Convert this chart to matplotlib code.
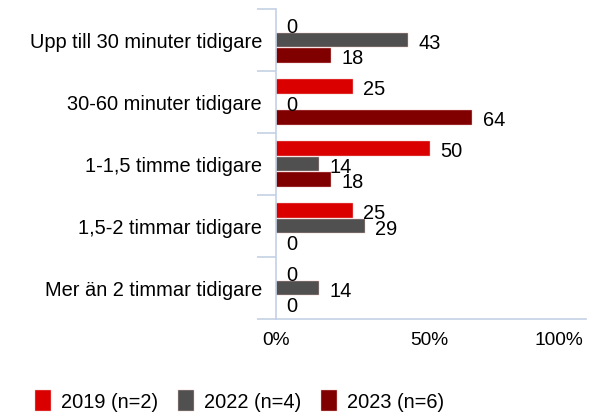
import matplotlib.pyplot as plt
import numpy as np

plt.rcParams['font.family'] = ['Liberation Sans', 'DejaVu Sans']

# --- Data
categories = ["Upp till 30 minuter tidigare", "30-60 minuter tidigare",
              "1-1,5 timme tidigare", "1,5-2 timmar tidigare",
              "Mer än 2 timmar tidigare"]
series_names = ["2019 (n=2)", "2022 (n=4)", "2023 (n=6)"]
v2019 = [0, 25, 50, 25, 0]
v2022 = [43, 0, 14, 29, 14]
v2023 = [18, 64, 18, 0, 0]
colors = ["#DA0000", "#505050", "#800000"]
x_ticks = [0, 50, 100]
x_labels = ["0%", "50%", "100%"]

axis_col = "#C3D1E4"

fig = plt.figure(figsize=(5.95, 4.14), dpi=100)
ax = fig.add_axes([276 / 595, 1 - 320 / 414, (583 - 276) / 595, (320 - 10) / 414])

y = np.arange(len(categories))
h = 0.25
for i, (vals, name, c) in enumerate(zip([v2019, v2022, v2023], series_names, colors)):
    pos = y + (i - 1) * h
    ax.barh(pos, vals, height=0.235, color=c, label=name,
            edgecolor="#f0c0c0", linewidth=0.3)
    for p, v in zip(pos, vals):
        ax.annotate(str(v), (v, p), xytext=(7.5, -1.5), textcoords="offset points",
                    va="center", ha="left", fontsize=14.4, color="#000000")

ax.set_ylim(len(categories) - 0.5, -0.5)
ax.set_xlim(0, 100)

ax.set_yticks(y)
ax.set_yticklabels(categories, fontsize=14.4)
ax.set_yticks(np.arange(-0.5, len(categories)), minor=True)
ax.tick_params(axis="y", which="major", length=0, pad=10)
ax.tick_params(axis="y", which="minor", length=14, color=axis_col, width=1.2)

ax.set_xticks(x_ticks)
ax.set_xticklabels(x_labels, fontsize=13.8)
ax.get_xticklabels()[-1].set_horizontalalignment("right")
ax.tick_params(axis="x", length=0, pad=9)

for s in ["top", "right"]:
    ax.spines[s].set_visible(False)
for s in ["left", "bottom"]:
    ax.spines[s].set_color(axis_col)
    ax.spines[s].set_linewidth(1.2)
ax.spines["bottom"].set_bounds(0, 101)

fig.legend(loc="lower left", bbox_to_anchor=(35 / 595, 2 / 414), ncol=3, frameon=False,
           fontsize=14.4, handlelength=0.8, handleheight=1.25, handletextpad=0.5,
           columnspacing=1.0, borderaxespad=0, borderpad=0)

plt.savefig("out.png", dpi=100)
